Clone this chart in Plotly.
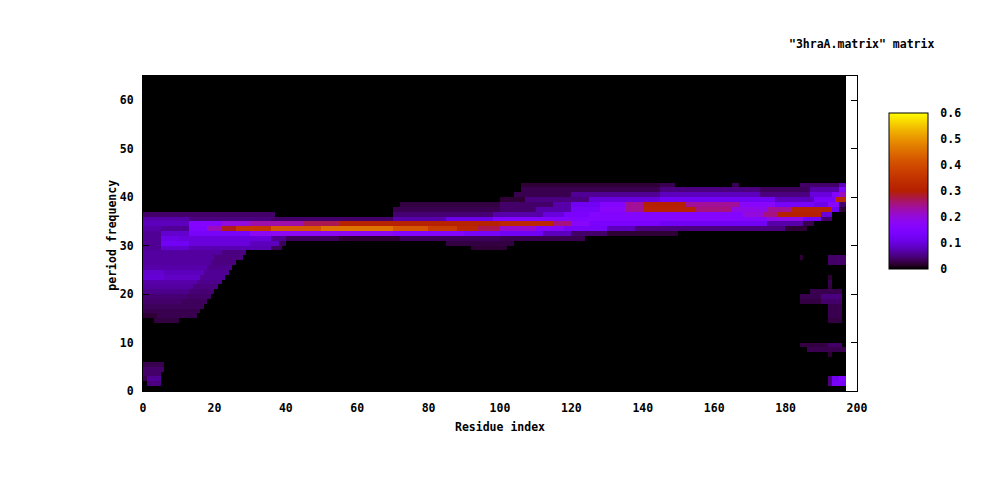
import numpy as np
import plotly.graph_objects as go

# ---------------- data ----------------
n_residues = 197          # columns 0..196
n_freqs = 65              # rows 0..64
x_tick_vals = [0, 20, 40, 60, 80, 100, 120, 140, 160, 180, 200]
y_tick_vals = [0, 10, 20, 30, 40, 50, 60]
cb_tick_vals = [0, 0.1, 0.2, 0.3, 0.4, 0.5, 0.6]
cb_tick_text = ["0", "0.1", "0.2", "0.3", "0.4", "0.5", "0.6"]

# runs per frequency row: (first residue, end residue, value)
f01 = [(1, 5, 0.05), (192, 193, 0.05), (193, 197, 0.13)]
f02 = [(0, 1, 0.03), (1, 5, 0.06), (192, 193, 0.05), (193, 195, 0.12), (195, 197, 0.15)]
f03 = [(0, 5, 0.04)]
f04 = [(0, 6, 0.04)]
f05 = [(0, 6, 0.03)]
f07 = [(192, 193, 0.02)]
f08 = [(186, 197, 0.03)]
f09 = [(184, 192, 0.025), (192, 196, 0.04)]
f14 = [(3, 10, 0.025), (192, 196, 0.025)]
f15 = [(0, 4, 0.02), (4, 15, 0.03), (192, 196, 0.03)]
f16 = [(0, 16, 0.03), (192, 196, 0.03)]
f17 = [(0, 17, 0.035), (192, 196, 0.03)]
f18 = [(0, 11, 0.04), (11, 18, 0.035), (184, 190, 0.025), (190, 196, 0.04)]
f19 = [(0, 12, 0.045), (12, 19, 0.04), (184, 190, 0.03), (190, 196, 0.05)]
f20 = [(0, 13, 0.055), (13, 20, 0.045), (187, 196, 0.03)]
f21 = [(0, 14, 0.065), (14, 21, 0.05), (192, 193, 0.025)]
f22 = [(0, 15, 0.07), (15, 22, 0.055), (192, 193, 0.03)]
f23 = [(0, 6, 0.095), (6, 16, 0.085), (16, 23, 0.06), (192, 193, 0.02)]
f24 = [(0, 6, 0.09), (6, 17, 0.08), (17, 24, 0.06)]
f25 = [(0, 18, 0.07), (18, 25, 0.055)]
f26 = [(0, 19, 0.065), (19, 26, 0.05), (192, 197, 0.04)]
f27 = [(0, 20, 0.065), (20, 28, 0.05), (184, 185, 0.02), (192, 197, 0.04)]
f28 = [(0, 22, 0.065), (22, 29, 0.05)]
f29 = [(0, 5, 0.06), (5, 13, 0.09), (13, 36, 0.075), (36, 39, 0.035), (92, 102, 0.02)]
f30 = [(0, 5, 0.06), (5, 13, 0.12), (13, 30, 0.10), (30, 38, 0.08), (38, 40, 0.035),
       (85, 104, 0.025)]
f31 = [(0, 5, 0.06), (5, 10, 0.11), (10, 36, 0.10), (36, 40, 0.06), (40, 55, 0.035),
       (55, 72, 0.02), (72, 100, 0.035), (100, 124, 0.03)]
f32 = [(0, 5, 0.06), (5, 13, 0.09), (13, 30, 0.13), (30, 70, 0.18), (70, 90, 0.16),
       (90, 100, 0.13), (100, 112, 0.12), (112, 120, 0.08), (120, 130, 0.04), (130, 150, 0.02)]
f33 = [(0, 5, 0.07), (5, 13, 0.06), (13, 18, 0.15), (18, 22, 0.22), (22, 26, 0.29),
       (26, 36, 0.36), (36, 50, 0.42), (50, 70, 0.46), (70, 80, 0.42), (80, 88, 0.37),
       (88, 94, 0.32), (94, 100, 0.27), (100, 110, 0.21), (110, 118, 0.16), (118, 130, 0.13),
       (130, 138, 0.08), (138, 180, 0.05), (180, 186, 0.02)]
f34 = [(0, 13, 0.08), (13, 22, 0.16), (22, 30, 0.20), (30, 45, 0.23), (45, 55, 0.27),
       (55, 100, 0.31), (100, 115, 0.32), (115, 120, 0.25), (120, 125, 0.17), (125, 145, 0.14),
       (145, 175, 0.12), (175, 185, 0.07), (185, 188, 0.03)]
f35 = [(0, 13, 0.07), (13, 36, 0.05), (36, 70, 0.04), (70, 85, 0.07), (85, 98, 0.11),
       (98, 125, 0.15), (125, 175, 0.16), (175, 185, 0.19), (185, 190, 0.12), (190, 193, 0.04)]
f36 = [(0, 37, 0.04), (70, 98, 0.045), (98, 112, 0.07), (112, 118, 0.10), (118, 125, 0.14),
       (125, 168, 0.16), (168, 174, 0.20), (174, 178, 0.25), (178, 190, 0.30), (190, 193, 0.10)]
f37 = [(70, 100, 0.03), (100, 110, 0.04), (110, 120, 0.07), (120, 128, 0.13), (128, 135, 0.17),
       (135, 140, 0.24), (140, 155, 0.31), (155, 165, 0.25), (165, 175, 0.19), (175, 182, 0.24),
       (182, 193, 0.31), (193, 195, 0.12), (195, 197, 0.02)]
f38 = [(72, 100, 0.025), (100, 115, 0.04), (115, 120, 0.07), (120, 128, 0.12), (128, 135, 0.16),
       (135, 140, 0.24), (140, 152, 0.30), (152, 167, 0.24), (167, 177, 0.17), (177, 188, 0.13),
       (188, 192, 0.11), (192, 195, 0.17), (195, 197, 0.04)]
f39 = [(100, 107, 0.02), (107, 125, 0.05), (125, 145, 0.10), (145, 177, 0.12), (177, 188, 0.08),
       (188, 194, 0.14), (194, 197, 0.32)]
f40 = [(104, 120, 0.03), (120, 145, 0.06), (145, 173, 0.08), (173, 187, 0.05), (187, 193, 0.10),
       (193, 195, 0.16), (195, 197, 0.22)]
f41 = [(106, 145, 0.03), (145, 173, 0.05), (173, 187, 0.035), (187, 195, 0.07), (195, 197, 0.15)]
f42 = [(106, 145, 0.02), (145, 149, 0.03), (165, 167, 0.03), (184, 195, 0.04), (195, 197, 0.08)]

runs_by_freq = {
    1: f01, 2: f02, 3: f03, 4: f04, 5: f05, 7: f07, 8: f08, 9: f09,
    14: f14, 15: f15, 16: f16, 17: f17, 18: f18, 19: f19, 20: f20, 21: f21,
    22: f22, 23: f23, 24: f24, 25: f25, 26: f26, 27: f27, 28: f28, 29: f29,
    30: f30, 31: f31, 32: f32, 33: f33, 34: f34, 35: f35, 36: f36, 37: f37,
    38: f38, 39: f39, 40: f40, 41: f41, 42: f42,
}

# ---------------- build the matrix ----------------
z = np.zeros((n_freqs, n_residues))
for f, runs in runs_by_freq.items():
    for a, b, v in runs:
        z[f, a:b] = v

x_centers = np.arange(n_residues) + 0.5
y_centers = np.arange(n_freqs) + 0.5

# gnuplot default palette (rgbformulae 7,5,15)
def pal(t):
    r = np.sqrt(t)
    g = t ** 3
    b = max(0.0, np.sin(2 * np.pi * t))
    return "rgb(%d,%d,%d)" % (round(255 * r), round(255 * g), round(255 * b))

colorscale = [[t, pal(t)] for t in np.linspace(0, 1, 41)]

FONT = dict(family="DejaVu Sans Mono", size=11.5, color="black", weight="bold")

fig = go.Figure()
fig.add_trace(go.Heatmap(
    z=z, x=x_centers, y=y_centers,
    zmin=0, zmax=0.6, zsmooth=False,
    colorscale=colorscale,
    colorbar=dict(
        x=1.0448, xanchor="left", xref="paper",
        y=0.635, yanchor="middle", yref="paper",
        len=0.495, lenmode="fraction",
        thickness=39, thicknessmode="pixels",
        outlinecolor="black", outlinewidth=1,
        ticks="outside", ticklen=10, tickcolor="rgba(0,0,0,0)",
        tickvals=cb_tick_vals, ticktext=cb_tick_text,
        tickfont=FONT, ypad=0, xpad=0,
    ),
    hoverinfo="skip",
))

# the page puts the figure 8 px in from the top-left corner, margins compensate
fig.update_layout(
    width=1000, height=480,
    margin=dict(l=135, r=151, t=68, b=97, autoexpand=False),
    paper_bgcolor="white", plot_bgcolor="white",
    font=FONT,
    showlegend=False,
    xaxis=dict(range=[0, 200], tickvals=x_tick_vals, showgrid=False, zeroline=False,
               showline=True, linecolor="black", linewidth=1, mirror="ticks",
               ticks="inside", ticklen=6, tickcolor="black", tickfont=FONT,
               ticklabelstandoff=6),
    yaxis=dict(range=[0, 65], tickvals=y_tick_vals, showgrid=False, zeroline=False,
               showline=True, linecolor="black", linewidth=1, mirror="ticks",
               ticks="inside", ticklen=6, tickcolor="black", tickfont=FONT,
               ticklabelstandoff=6),
    annotations=[
        dict(text='"3hraA.matrix" matrix', x=1.007, y=1.1016, xref="paper", yref="paper",
             xanchor="center", yanchor="middle", showarrow=False, font=FONT),
        dict(text="period frequency", x=-0.044, y=0.495, xref="paper", yref="paper",
             xanchor="center", yanchor="middle", textangle=-90, showarrow=False, font=FONT),
        dict(text="Residue index", x=0.5, y=-0.114, xref="paper", yref="paper",
             xanchor="center", yanchor="middle", showarrow=False, font=FONT),
    ],
)

fig.write_html("out.html")
